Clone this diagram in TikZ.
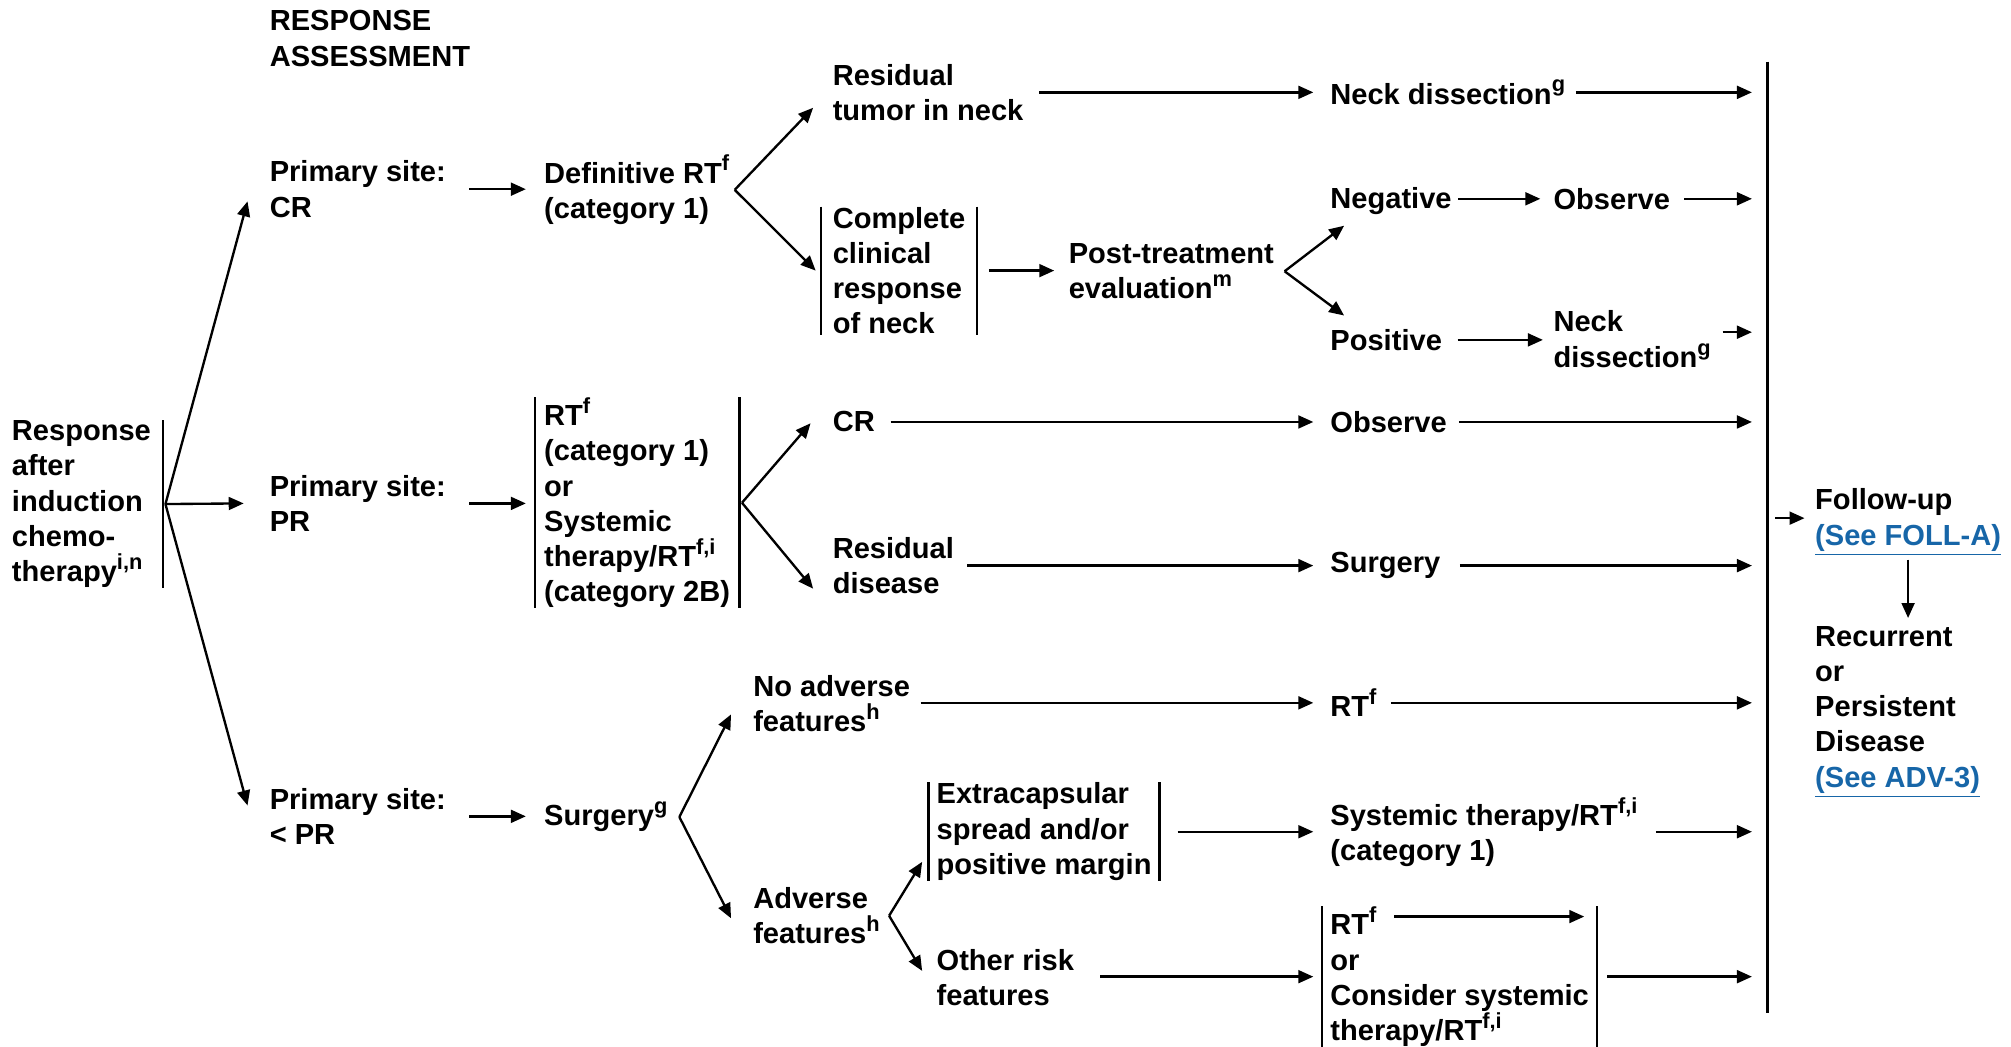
\documentclass[tikz,border=0pt]{standalone}
\usepackage{fontspec}
\setmainfont{Liberation Sans}
\usetikzlibrary{arrows.meta}
\definecolor{linkblue}{HTML}{1766A8}
\newcommand\flowfont{\fontsize{13.6pt}{16.5pt}\selectfont\bfseries}
\newcommand\sups[1]{\raisebox{0.42em}{\fontsize{10.2pt}{10pt}\selectfont #1}}

\begin{document}
\begin{tikzpicture}[
  x=0.6pt, y=-0.6pt,
  txt/.style={anchor=west, align=left, inner sep=0pt, font=\flowfont},
  barline/.style={draw, line width=1.1pt},
  boxed/.style={inner xsep=#1, append after command={
     (\tikzlastnode.north west) edge[barline] (\tikzlastnode.south west)
     (\tikzlastnode.north east) edge[barline] (\tikzlastnode.south east)}},
  boxed/.default=3.6pt,
  arr/.style={draw, line width=1.1pt, -{Triangle[length=7pt,width=6pt]}}
]
\useasboundingbox (0,0) rectangle (1568,816);

% ---- column headers and first column
\node[txt] (hdr) at (210,30) {RESPONSE\\ASSESSMENT};
\node[txt] (resp) at (9,393) {Response\\after\\induction\\chemo-\\therapy\sups{i,n}};
\draw[barline] ([shift={(9,0)}]resp.north east) -- ([shift={(9,0)}]resp.south east);
\coordinate (b0) at ([shift={(11,0)}]resp.east);

% ---- primary site: CR
\node[txt] (pcr) at (210,147.5) {Primary site:\\CR};
\node[txt] (drt) at (424,148) {Definitive RT\sups{f}\\(category 1)};
\node[txt] (rtn) at (649,72) {Residual\\tumor in neck};
\node[txt] (nd1) at (1037,72) {Neck dissection\sups{g}};
\node[txt, boxed=5.4pt] (ccr) at (640,211) {Complete\\clinical\\response\\of neck};
\node[txt] (pte) at (833,211.5) {Post-treatment\\evaluation\sups{m}};
\node[txt] (neg) at (1037,157) {Negative};
\node[txt] (obs1) at (1211,155) {Observe};
\node[txt] (pos) at (1037,265) {Positive};
\node[txt] (nd2) at (1211,264.5) {Neck\\dissection\sups{g}};

% ---- primary site: PR
\node[txt] (ppr) at (210,392.5) {Primary site:\\PR};
\node[txt, boxed=4.2pt] (opt) at (417,392) {RT\sups{f}\\(category 1)\\or\\Systemic\\therapy/RT\sups{f,i}\\(category 2B)};
\node[txt] (cr2) at (649,329) {CR};
\node[txt] (obs2) at (1037,329) {Observe};
\node[txt] (rd) at (649,441) {Residual\\disease};
\node[txt] (surg) at (1037,441) {Surgery};

% ---- primary site: < PR
\node[txt] (plt) at (210,636.5) {Primary site:\\< PR};
\node[txt] (sg) at (424,637) {Surgery\sups{g}};
\node[txt] (noad) at (587,548.5) {No adverse\\features\sups{h}};
\node[txt] (rt) at (1037,548) {RT\sups{f}};
\node[txt] (adv) at (587,714) {Adverse\\features\sups{h}};
\node[txt, boxed] (ext) at (724,648.5) {Extracapsular\\spread and/or\\positive margin};
\node[txt] (sys) at (1037,649) {Systemic therapy/RT\sups{f,i}\\(category 1)};
\node[txt] (oth) at (730,762.5) {Other risk\\features};
\node[txt, boxed] (alt) at (1031,761.5) {RT\sups{f}\\or\\Consider systemic\\therapy/RT\sups{f,i}};

% ---- follow-up
\node[txt] (fu) at (1415,407) {Follow-up\\{\color{linkblue}\underline{(See FOLL-A)}}};
\node[txt] (rec) at (1415,555) {Recurrent\\or\\Persistent\\Disease\\{\color{linkblue}\underline{(See ADV-3)}}};

% ---- collecting bar
\coordinate (bigtop) at (1378,48);
\coordinate (bigbot) at (1378,790);
\coordinate (endcol) at (1366,0);
\draw[barline] (bigtop) -- (bigbot);

% ---- connectors: first split
\draw[arr] (b0) -- ([shift={(-17,9.5)}]pcr.west);
\draw[arr] (b0) -- ([shift={(-20,0)}]ppr.west);
\draw[arr] (b0) -- ([shift={(-17,-8.5)}]plt.west);

% CR branch
\draw[arr, shorten >=8.4pt] (pcr.east) ++(18,0) -- (pcr.east -| drt.west);
\coordinate (b1) at ([shift={(4,0)}]drt.east);
\draw[arr] (b1) -- ([shift={(-15,12)}]rtn.west);
\draw[arr] (b1) -- ([shift={(-4,0)}]ccr.west);
\draw[arr, shorten >=7.8pt] (rtn.east) ++(12,0) -- (rtn.east -| nd1.west);
\draw[arr] (nd1.east) ++(8,0) -- (nd1.east -| endcol);
\draw[arr, shorten >=6.6pt] (ccr.east) ++(9,0) -- (ccr.east -| pte.west);
\coordinate (b2) at ([shift={(8,0)}]pte.east);
\draw[arr] (b2) -- ([shift={(11,19)}]neg.west);
\draw[arr] (b2) -- ([shift={(11,-19)}]pos.west);
\draw[arr, shorten >=6pt] (neg.east |- obs1.west) ++(5,0) -- (obs1.west);
\draw[arr] (obs1.east) ++(11,0) -- (obs1.east -| endcol);
\draw[arr, shorten >=4.8pt] (pos.east) ++(12,0) -- (pos.east -| nd2.west);
\path (nd2.east) ++(9,-5.5) coordinate (nd2o);
\draw[arr] (nd2o) -- (nd2o -| endcol);

% PR branch
\draw[arr, shorten >=4.2pt] (ppr.east) ++(18,0) -- (ppr.east -| opt.west);
\coordinate (b3) at ([shift={(2,0)}]opt.east);
\draw[arr] (b3) -- ([shift={(-17,1)}]cr2.west);
\draw[arr] (b3) -- ([shift={(-15,18)}]rd.west);
\draw[arr, shorten >=7.8pt] (cr2.east) ++(12,0) -- (cr2.east -| obs2.west);
\draw[arr] (obs2.east) ++(9,0) -- (obs2.east -| endcol);
\draw[arr, shorten >=7.8pt] (rd.east |- surg.west) ++(10,0) -- (surg.west);
\draw[arr] (surg.east) ++(15,0) -- (surg.east -| endcol);

% < PR branch
\draw[arr, shorten >=8.4pt] (plt.east) ++(18,0) -- (plt.east -| sg.west);
\coordinate (b4) at ([shift={(9,0)}]sg.east);
\draw[arr] (b4) -- ([shift={(-17,8.5)}]noad.west);
\draw[arr] (b4) -- ([shift={(-17,2)}]adv.west);
\draw[arr, shorten >=7.8pt] (noad.east |- rt.west) ++(8,0) -- (rt.west);
\draw[arr] (rt.east) ++(11,0) -- (rt.east -| endcol);
\coordinate (b5) at ([shift={(7,0)}]adv.east);
\draw[arr] (b5) -- ([shift={(-5,23.5)}]ext.west);
\draw[arr] (b5) -- ([shift={(-11,-5.5)}]oth.west);
\draw[arr, shorten >=7.8pt] (ext.east) ++(14,0) -- (ext.east -| sys.west);
\draw[arr] (sys.east |- ext.east) ++(14,0) -- (ext.east -| endcol);
\draw[arr, shorten >=4.2pt] (oth.east |- alt.west) ++(20,0) -- (alt.west);
\draw[arr] ([shift={(56,8)}]alt.north west) -- ([shift={(-10,8)}]alt.north east);
\draw[arr] (alt.east) ++(8,0) -- (alt.east -| endcol);

% follow-up
\draw[arr, shorten >=4.8pt] (bigtop |- fu.west) ++(6,-3) -- ([shift={(0,-3)}]fu.west);
\draw[arr, shorten <=1.8pt, shorten >=3.6pt] (fu.south) -- (fu.south |- rec.north);
\end{tikzpicture}
\end{document}
